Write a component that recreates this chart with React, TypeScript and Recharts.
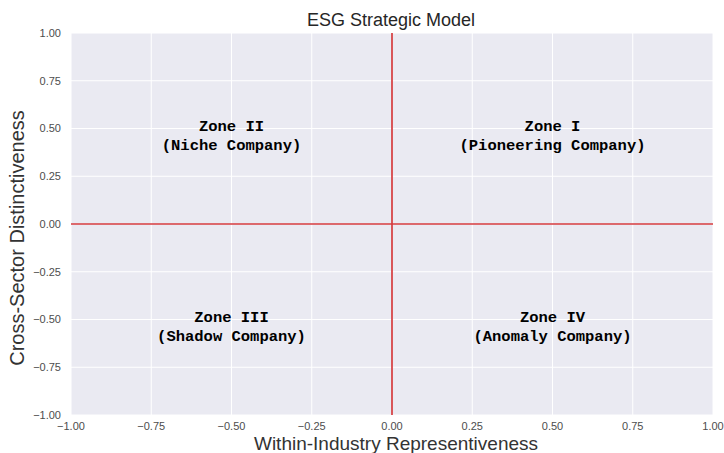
import React from 'react';
import { ScatterChart, Scatter, XAxis, YAxis, CartesianGrid, ReferenceLine } from 'recharts';

const axisTicks = [-1, -0.75, -0.5, -0.25, 0, 0.25, 0.5, 0.75, 1];
const zoneX = [0.5, -0.5, -0.5, 0.5];
const zoneY = [0.5, 0.5, -0.5, -0.5];
const zoneTitles = ['Zone I', 'Zone II', 'Zone III', 'Zone IV'];
const zoneSubtitles = ['(Pioneering Company)', '(Niche Company)', '(Shadow Company)', '(Anomaly Company)'];

const zones = zoneX.map((x, i) => ({ x, y: zoneY[i], title: zoneTitles[i], sub: zoneSubtitles[i] }));

const fmt = (v: number) => (v < 0 ? '\u2212' : '') + Math.abs(v).toFixed(2);

const ZoneLabel = (props: any) => {
  const { cx, cy, payload } = props;
  return (
    <g>
      <text x={cx} y={cy + 2} textAnchor="middle" fontFamily="'Liberation Mono', 'Courier New', monospace" fontWeight="bold" fontSize={15.5} fill="#000">
        {payload.title}
      </text>
      <text x={cx} y={cy + 21} textAnchor="middle" fontFamily="'Liberation Mono', 'Courier New', monospace" fontWeight="bold" fontSize={15.5} fill="#000">
        {payload.sub}
      </text>
    </g>
  );
};

const tickStyle = { fontFamily: "'Liberation Sans', Arial, sans-serif", fontSize: 11, fill: '#4d4d4d' };

export default function App() {
  return (
    <div style={{ position: 'absolute', left: 0, top: 0, width: 724, height: 453, background: '#fff' }}>
      <ScatterChart width={724} height={453} margin={{ top: 33, right: 11, bottom: 0, left: 0 }}>
        <CartesianGrid fill="#EAEAF2" stroke="#ffffff" strokeWidth={1} horizontalValues={axisTicks} verticalValues={axisTicks} />
        <XAxis
          type="number"
          dataKey="x"
          domain={[-1, 1]}
          ticks={axisTicks}
          tickFormatter={fmt}
          axisLine={false}
          tickLine={false}
          tickSize={0}
          tickMargin={7}
          height={38}
          tick={tickStyle}
          interval={0}
          allowDataOverflow
        />
        <YAxis
          type="number"
          dataKey="y"
          domain={[-1, 1]}
          ticks={axisTicks}
          tickFormatter={fmt}
          axisLine={false}
          tickLine={false}
          tickSize={0}
          tickMargin={10}
          width={71}
          tick={tickStyle}
          interval={0}
          allowDataOverflow
        />
        <ReferenceLine x={0} stroke="#d43a3e" strokeWidth={1.7} />
        <ReferenceLine y={0} stroke="#d43a3e" strokeWidth={1.7} />
        <Scatter data={zones} shape={<ZoneLabel />} isAnimationActive={false} />
        <text x={391} y={26} textAnchor="middle" fontFamily="'Liberation Sans', Arial, sans-serif" fontSize={18} fill="#262626">
          ESG Strategic Model
        </text>
        <text x={396} y={450} textAnchor="middle" fontFamily="'Liberation Sans', Arial, sans-serif" fontSize={19} fill="#333">
          Within-Industry Representiveness
        </text>
        <text x={24} y={238} textAnchor="middle" transform="rotate(-90 24 238)" fontFamily="'Liberation Sans', Arial, sans-serif" fontSize={20} fill="#333">
          Cross-Sector Distinctiveness
        </text>
      </ScatterChart>
    </div>
  );
}
